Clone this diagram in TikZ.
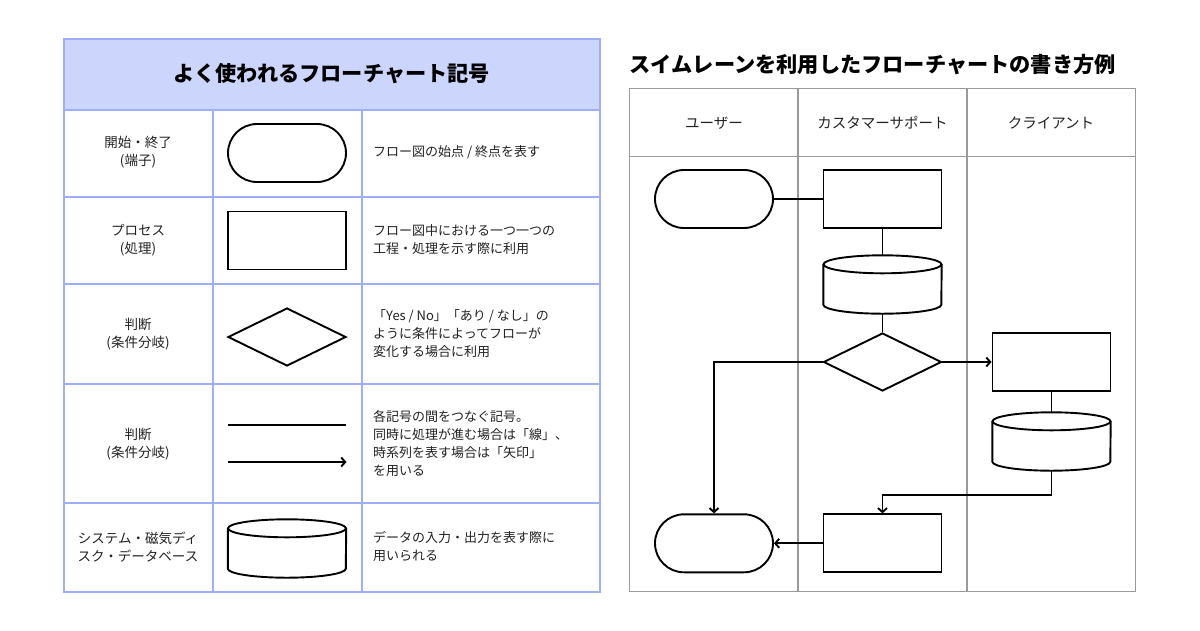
\documentclass[tikz,border=0pt]{standalone}
\usepackage{fontspec}
\setmainfont{Noto Sans CJK JP}
\usetikzlibrary{shapes.misc,shapes.geometric,arrows.meta,calc}
\definecolor{tblc}{HTML}{9EAFF7}
\definecolor{hdrfill}{HTML}{CCD5FC}
\definecolor{lanec}{HTML}{9A9A9A}
\definecolor{txt}{HTML}{222222}
\tikzset{
  tbl/.style={draw=tblc, line width=2pt},
  lane/.style={draw=lanec, line width=1.3pt},
  shp/.style={draw=black, line width=1.9pt, inner sep=0pt, minimum width=118pt, minimum height=58pt},
  term/.style={shp, rounded rectangle},
  proc/.style={shp, rectangle},
  dec/.style={shp, diamond, aspect=2},
  dbbox/.style={inner sep=0pt, minimum width=118pt, minimum height=58pt},
  conn/.style={line width=1.9pt},
  arr/.style={conn, -{Straight Barb[length=4pt,width=9pt]}},
  lbl/.style={font=\fontsize{13.5}{18}\selectfont, text=txt, align=center},
  desc/.style={font=\fontsize{13}{18}\selectfont, text=txt, align=left, anchor=west, inner sep=0pt},
  lanehdr/.style={font=\fontsize{14.5}{18}\selectfont, text=txt},
  ttl/.style={font=\fontsize{21.2}{24}\selectfont\bfseries, text=black, inner sep=0pt},
}
\newcommand\dbdraw[1]{%
  \draw[conn] ($(#1.north west)+(0,9)$) -- ($(#1.south west)+(0,-9)$)
     arc[start angle=180, end angle=0, x radius=59, y radius=9]
     -- ($(#1.north east)+(0,9)$);
  \draw[conn] ($(#1.north)+(0,9)$) ellipse[x radius=59, y radius=9];
}
\begin{document}
\begin{tikzpicture}[x=1pt,y=-1pt]
\path[use as bounding box, fill=white] (0,0) rectangle (1200,630);

% ---------------- left table ----------------
\fill[hdrfill] (63.5,38.5) rectangle (600,109.5);
\draw[tbl] (63.5,38.5) rectangle (600,591.5);
\draw[tbl] (63.5,109.5) -- (600,109.5);
\foreach \yy in {196.5,284,384,503}{\draw[tbl] (63.5,\yy) -- (600,\yy);}
\draw[tbl] (212.7,109.5) -- (212.7,591.5);
\draw[tbl] (361.5,109.5) -- (361.5,591.5);

\node[ttl] (lt) at (331.7,73.5) {よく使われるフローチャート記号};

% row 1
\node[lbl] (l1) at (138,152) {開始・終了\\(端子)};
\node[term] (s1) at (287,153) {};
\node[desc] (d1) at (373,152) {フロー図の始点 / 終点を表す};
% row 2
\node[lbl] (l2) at (138,240) {プロセス\\(処理)};
\node[proc] (s2) at (287,240.5) {};
\node[desc] (d2) at (373,240) {フロー図中における一つ一つの\\工程・処理を示す際に利用};
% row 3
\node[lbl] (l3) at (138,334) {判断\\(条件分岐)};
\node[dec] (s3) at (287,337) {};
\node[desc] (d3) at (373,334) {「Yes / No」「あり / なし」の\\ように条件によってフローが\\変化する場合に利用};
% row 4
\node[lbl] (l4) at (138,444) {判断\\(条件分岐)};
\coordinate (la) at (228,425);
\coordinate (lb) at (346,425);
\coordinate (lc) at (228,462);
\coordinate (ld) at (346.5,462);
\draw[conn] (la) -- (lb);
\draw[arr] (lc) -- (ld);
\node[desc] (d4) at (373,444) {各記号の間をつなぐ記号。\\同時に処理が進む場合は「線」、\\時系列を表す場合は「矢印」\\を用いる};
% row 5
\node[lbl] (l5) at (138,547) {システム・磁気ディ\\スク・データベース};
\node[dbbox] (s5) at (287,548.5) {};
\dbdraw{s5}
\node[desc] (d5) at (373,547) {データの入力・出力を表す際に\\用いられる};

% ---------------- swimlane ----------------
\node[ttl, anchor=west] (rt) at (629.5,64.5) {スイムレーンを利用したフローチャートの書き方例};
\draw[lane] (629.5,88.5) rectangle (1135.5,591.5);
\draw[lane] (629.5,156.5) -- (1135.5,156.5);
\draw[lane] (798,88.5) -- (798,591.5);
\draw[lane] (967,88.5) -- (967,591.5);
\node[lanehdr] (h1) at (714,123) {ユーザー};
\node[lanehdr] (h2) at (882.5,123) {カスタマーサポート};
\node[lanehdr] (h3) at (1051,123) {クライアント};

\node[term] (t1) at (714,199) {};
\node[proc] (p1) at (882.5,199) {};
\node[dbbox] (c1) at (882.5,284.5) {};
\dbdraw{c1}
\node[dec] (q1) at (882.5,362) {};
\node[proc] (p2) at (1051.5,362) {};
\node[dbbox] (c2) at (1051.5,441.5) {};
\dbdraw{c2}
\node[proc] (p3) at (882.5,543.3) {};
\node[term] (t2) at (714,543.3) {};

\draw[conn] (t1.east) -- (p1.west);
\draw[conn] (p1.south) -- (c1.north);
\draw[conn] (c1.south) -- (q1.north);
\draw[arr] (q1.east) -- (p2.west);
\draw[conn] (p2.south) -- (c2.north);
\draw[arr] (q1.west) -| (t2.north);
\draw[arr] (c2.south) -- ++(0,24) -| (p3.north);
\draw[arr] (p3.west) -- (t2.east);
\end{tikzpicture}
\end{document}
